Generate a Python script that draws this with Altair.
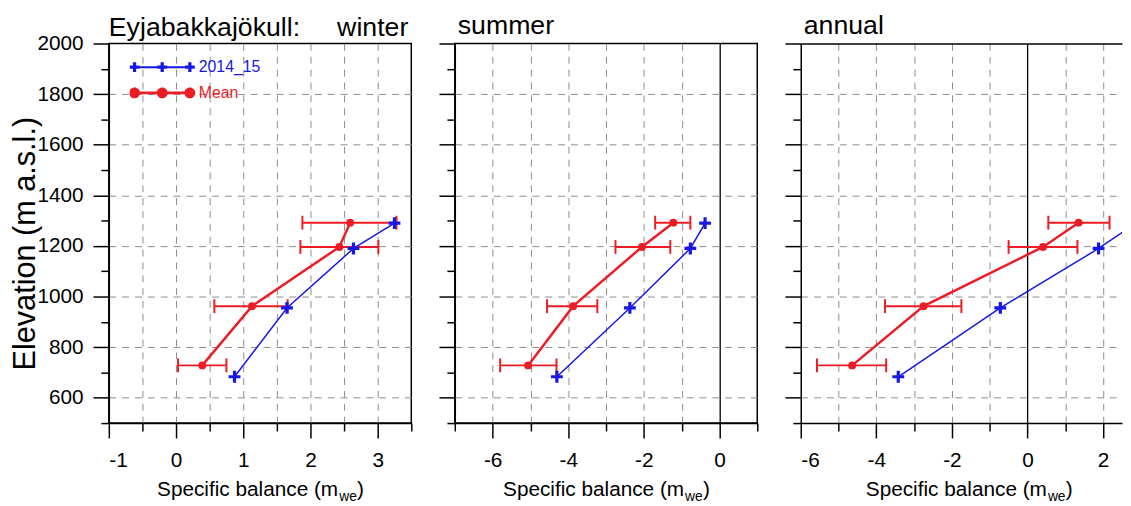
import altair as alt
import pandas as pd

BLUE = "#1717e8"
RED = "#ec1c24"
GRID = "#8c8c8c"
FONT = "Liberation Sans"

# ---- data ----
series_names = ["2014_15", "Mean"]
elev_2014 = [683, 955, 1190, 1290]
elev_mean = [728, 962, 1196, 1292]

winter_2014 = [0.87, 1.65, 2.64, 3.25]
winter_mean = [0.39, 1.13, 2.43, 2.59]
winter_lo = [0.03, 0.57, 1.85, 1.88]
winter_hi = [0.75, 1.66, 3.01, 3.28]

summer_2014 = [-4.30, -2.37, -0.77, -0.38]
summer_mean = [-5.06, -3.87, -2.05, -1.22]
summer_lo = [-5.80, -4.56, -2.75, -1.70]
summer_hi = [-4.31, -3.23, -1.30, -0.77]

annual_2014 = [-3.42, -0.72, 1.88, 2.87]
annual_mean = [-4.64, -2.75, 0.41, 1.35]
annual_lo = [-5.57, -3.77, -0.50, 0.55]
annual_hi = [-3.74, -1.75, 1.32, 2.17]

panel_titles = ["Eyjabakkajökull:" + "\u00a0" * 5 + "winter", "summer", "annual"]
y_title = "Elevation (m a.s.l.)"
x_title_parts = ["Specific balance (m", "we", ")"]

# tick values (major = labelled, minor = unlabelled)
x_major_winter = [-1, 0, 1, 2, 3]
x_minor_winter = [-0.5, 0.5, 1.5, 2.5, 3.5]
x_major_summer = [-6, -4, -2, 0]
x_minor_summer = [-7, -5, -3, -1, 1]
x_major_annual = [-6, -4, -2, 0, 2]
x_minor_annual = [-5, -3, -1, 1]
y_major = [600, 800, 1000, 1200, 1400, 1600, 1800, 2000]
y_minor = [500, 700, 900, 1100, 1300, 1500, 1700, 1900]

# ---- marker shapes ----
CROSS = "M-1,-0.27H-0.27V-1H0.27V-0.27H1V0.27H0.27V1H-0.27V0.27H-1Z"


def leg_cross_path():
    cxs = [-0.848, 0.0, 0.848]
    a, t = 0.15, 0.05
    p = "M-0.848,-0.03H0.848V0.03H-0.848Z"
    for cx in cxs:
        p += (f"M{cx-a:.3f},{-t}H{cx-t:.3f}V{-a}H{cx+t:.3f}V{-t}H{cx+a:.3f}V{t}"
              f"H{cx+t:.3f}V{a}H{cx-t:.3f}V{t}H{cx-a:.3f}Z")
    return p


def leg_circle_path():
    cxs = [-0.848, 0.0, 0.848]
    r = 0.165
    p = "M-0.848,-0.04H0.848V0.04H-0.848Z"
    for cx in cxs:
        p += f"M{cx-r:.3f},0A{r},{r} 0 1 1 {cx+r:.3f},0A{r},{r} 0 1 1 {cx-r:.3f},0Z"
    return p


LEG_SIZE = 66 * 66

panels = [
    dict(title=panel_titles[0], blue=winter_2014, mean=winter_mean, lo=winter_lo,
         hi=winter_hi, domain=[-1, 3.5], major=x_major_winter, minor=x_minor_winter,
         zero=False, width=306, center=153, ylabels=True, top=False, dx=0,
         legend=True, toff=-30),
    dict(title=panel_titles[1], blue=summer_2014, mean=summer_mean, lo=summer_lo,
         hi=summer_hi, domain=[-7, 1], major=x_major_summer, minor=x_minor_summer,
         zero=True, width=306, center=153, ylabels=False, top=False, dx=3,
         legend=False, toff=-18),
    dict(title=panel_titles[2], blue=annual_2014, mean=annual_mean, lo=annual_lo,
         hi=annual_hi, domain=[-6, 2.5], major=x_major_annual, minor=x_minor_annual,
         zero=True, width=325, center=170, ylabels=False, top=True, dx=3,
         legend=False, toff=-18),
]

H = 384


def edge_opacity(lo, hi):
    return {"condition": {"test": f"datum.value > {lo} && datum.value < {hi}",
                          "value": 1}, "value": 0}


def x_axis_major(p):
    lo, hi = p["domain"]
    kw = dict(
        orient="bottom", values=p["major"], title=None,
        labelExpr="(datum.value < 0 ? '-' : '') + abs(datum.value)",
        grid=True, gridWidth=1, gridDash=[7, 6], gridColor=GRID,
        gridOpacity=edge_opacity(lo, hi),
        tickSize=15, tickColor="black", tickWidth=1.5,
        domainColor="black", domainWidth=1.5,
        labelFont=FONT, labelFontSize=21, labelColor="black", labelPadding=12,
    )
    if p["zero"]:
        kw["gridDash"] = {"condition": {"test": "datum.value == 0", "value": []},
                          "value": [7, 6]}
        kw["gridColor"] = {"condition": {"test": "datum.value == 0", "value": "black"},
                           "value": GRID}
        kw["gridWidth"] = {"condition": {"test": "datum.value == 0", "value": 1.3},
                           "value": 1}
    return alt.Axis(**kw)


def x_axis_minor(p):
    lo, hi = p["domain"]
    return alt.Axis(orient="bottom", values=p["minor"], title=None, labels=False,
                    domain=False, grid=True, gridWidth=1, gridDash=[7, 6],
                    gridColor=GRID, gridOpacity=edge_opacity(lo, hi),
                    tickSize=8, tickColor="black", tickWidth=1.5)


def y_axis_major(p):
    kw = dict(
        orient="left", values=y_major,
        grid=True, gridWidth=1, gridDash=[7, 6], gridColor=GRID,
        gridOpacity=edge_opacity(500, 2000),
        tickSize=16, tickColor="black", tickWidth=1.5,
        domainColor="black", domainWidth=1.5,
    )
    if p["ylabels"]:
        kw.update(
            labelExpr="'' + datum.value",
            labelFont=FONT, labelFontSize=21, labelColor="black", labelPadding=10,
            title=y_title, titleFont=FONT, titleFontSize=31, titleFontWeight="normal",
            titleColor="black", titlePadding=-5, titleY=202,
        )
    else:
        kw.update(labels=False, title=None)
    return alt.Axis(**kw)


def y_axis_minor(p):
    return alt.Axis(orient="left", values=y_minor, title=None, labels=False,
                    domain=False, grid=False, tickSize=8, tickColor="black",
                    tickWidth=1.5)


def make_panel(p):
    xs = alt.Scale(domain=p["domain"], nice=False, zero=False)
    ys = alt.Scale(domain=[500, 2000], nice=False, zero=False)
    dm = pd.DataFrame({"E": elev_mean, "v": p["mean"], "lo": p["lo"], "hi": p["hi"]})
    db = pd.DataFrame({"E": elev_2014, "v": p["blue"]})
    clip = p["top"]

    err = alt.Chart(dm).mark_rule(color=RED, strokeWidth=2).encode(
        x=alt.X("lo:Q", scale=xs, axis=x_axis_major(p)), x2="hi:Q",
        y=alt.Y("E:Q", scale=ys, axis=y_axis_major(p)))
    cap_lo = alt.Chart(dm).mark_tick(color=RED, orient="vertical", size=14,
                                      thickness=2, opacity=1).encode(
        x=alt.X("lo:Q", scale=xs, axis=x_axis_minor(p)),
        y=alt.Y("E:Q", scale=ys, axis=y_axis_minor(p)))
    if p["top"]:
        top_ax = alt.Axis(orient="top", labels=False, ticks=False, grid=False,
                          domain=True, domainColor="black", domainWidth=1.5, title=None)
    else:
        top_ax = None
    cap_hi = alt.Chart(dm).mark_tick(color=RED, orient="vertical", size=14,
                                      thickness=2, opacity=1).encode(
        x=alt.X("hi:Q", scale=xs, axis=top_ax), y=alt.Y("E:Q", scale=ys, axis=None))
    line_m = alt.Chart(dm).mark_line(color=RED, strokeWidth=2.5).encode(
        x=alt.X("v:Q", scale=xs, axis=None), y=alt.Y("E:Q", scale=ys, axis=None),
        order="E:Q")
    pts_m = alt.Chart(dm).mark_point(filled=True, shape="circle", size=64, color=RED,
                                      opacity=1).encode(
        x=alt.X("v:Q", scale=xs, axis=None), y=alt.Y("E:Q", scale=ys, axis=None))
    line_b = alt.Chart(db).mark_line(color=BLUE, strokeWidth=1.5, clip=clip).encode(
        x=alt.X("v:Q", scale=xs, axis=None), y=alt.Y("E:Q", scale=ys, axis=None),
        order="E:Q")
    pts_b = alt.Chart(db).mark_point(filled=True, shape=CROSS, size=144, color=BLUE,
                                      opacity=1, strokeWidth=0, clip=clip).encode(
        x=alt.X("v:Q", scale=xs, axis=None), y=alt.Y("E:Q", scale=ys, axis=None))

    def txt(s, dx, dy, size, align):
        return alt.Chart(pd.DataFrame({"t": [s]})).mark_text(
            align=align, baseline="alphabetic", font=FONT, fontSize=size,
            color="black").encode(text="t:N", x=alt.value(p["center"] + dx),
                                  y=alt.value(H + dy))

    t1 = txt(x_title_parts[0], 79, 74, 21, "right")
    t2 = txt(x_title_parts[1], 80, 79, 14, "left")
    t3 = txt(x_title_parts[2], 98, 74, 21, "left")

    layers = [err, cap_lo, cap_hi, line_m, pts_m, line_b, pts_b]
    if p["legend"]:
        leg = alt.Legend(title=None, orient="none", legendX=21, legendY=16,
                         symbolSize=LEG_SIZE, clipHeight=16, rowPadding=10,
                         labelFont=FONT, labelFontSize=16, labelOffset=4,
                         labelColor={"expr": f"datum.value == 'Mean' ? '{RED}' : '{BLUE}'"},
                         symbolStrokeWidth=0, padding=0, symbolOpacity=1)
        legl = alt.Chart(pd.DataFrame({"series": series_names})).transform_filter(
            "false").mark_point(filled=True, opacity=1, size=LEG_SIZE).encode(
            color=alt.Color("series:N", scale=alt.Scale(domain=series_names,
                                                        range=[BLUE, RED]), legend=leg),
            shape=alt.Shape("series:N", scale=alt.Scale(
                domain=series_names, range=[leg_cross_path(), leg_circle_path()]),
                legend=leg))
        layers.append(legl)
    layers += [t1, t2, t3]

    props = dict(width=p["width"], height=H,
                 title=alt.TitleParams(p["title"], anchor="start", frame="group",
                                       fontSize=27, font=FONT, fontWeight="normal",
                                       color="black", baseline="alphabetic",
                                       offset=p["toff"], dx=p["dx"]))
    if p["top"]:
        props["view"] = alt.ViewBackground(stroke="transparent")
    return alt.layer(*layers).properties(**props).resolve_axis(
        x="independent", y="independent")


chart = alt.hconcat(*[make_panel(p) for p in panels], spacing=24).properties(
    padding={"left": 1, "top": 0, "right": 0, "bottom": 0},
    background="white",
).resolve_legend(color="independent", shape="independent").configure_view(
    stroke="black", strokeWidth=1.5)

chart.save("out.html", embed_options={"renderer": "svg", "actions": False})
